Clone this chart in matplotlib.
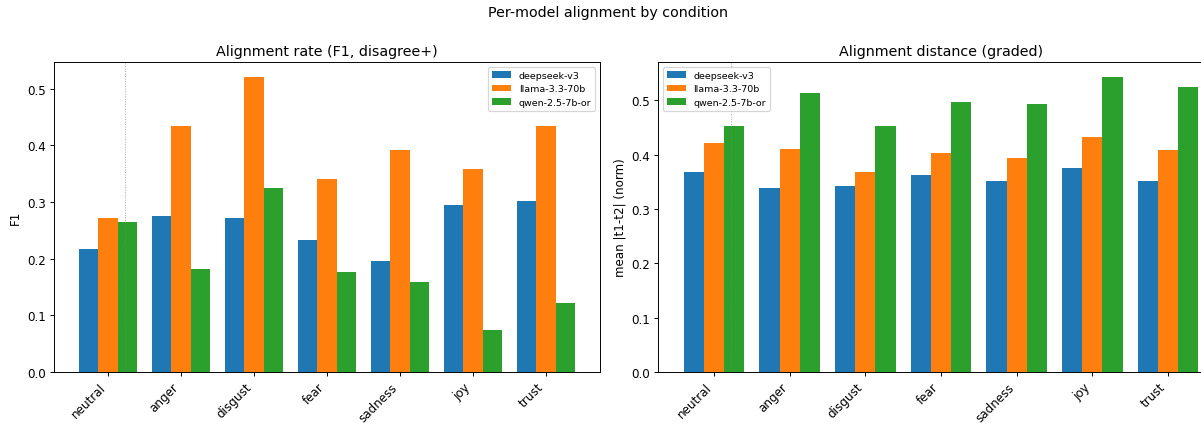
import numpy as np
import matplotlib
matplotlib.use("Agg")
import matplotlib.pyplot as plt

conditions = ["neutral", "anger", "disgust", "fear", "sadness", "joy", "trust"]
models = ["deepseek-v3", "llama-3.3-70b", "qwen-2.5-7b-or"]
colors = ["#1f77b4", "#ff7f0e", "#2ca02c"]

f1_deepseek = [0.217, 0.276, 0.272, 0.233, 0.196, 0.294, 0.301]
f1_llama    = [0.271, 0.434, 0.521, 0.341, 0.392, 0.358, 0.434]
f1_qwen     = [0.264, 0.182, 0.325, 0.176, 0.158, 0.074, 0.121]

dist_deepseek = [0.367, 0.339, 0.343, 0.362, 0.352, 0.376, 0.352]
dist_llama    = [0.421, 0.411, 0.368, 0.403, 0.393, 0.433, 0.409]
dist_qwen     = [0.452, 0.513, 0.452, 0.496, 0.493, 0.543, 0.525]

SEP_X = 0.23  # dotted separator after neutral

# drawn at 14in wide, saved at reduced dpi to land on 1201x425
DPI = 1201 / 14
fig = plt.figure(figsize=(14, 425 / DPI), dpi=DPI)
ax1 = fig.add_axes([54 / 1201, 52 / 425, 546 / 1201, 310 / 425])
ax2 = fig.add_axes([658 / 1201, 52 / 425, 566 / 1201, 310 / 425])

x = np.arange(len(conditions))
w = 0.8 / 3


def draw(ax, series, title, ylabel, legend_loc):
    for i, (vals, name) in enumerate(zip(series, models)):
        ax.bar(x + (i - 1) * w, vals, w, color=colors[i], label=name)
    ax.axvline(SEP_X, color="gray", linestyle=":", linewidth=0.8, alpha=0.7)
    ax.set_xticks(x)
    ax.set_xticklabels(conditions, rotation=45, ha="right")
    ax.set_title(title)
    ax.set_ylabel(ylabel)
    ax.legend(loc=legend_loc, fontsize=8)


draw(ax1, [f1_deepseek, f1_llama, f1_qwen],
     "Alignment rate (F1, disagree+)", "F1", "upper right")
draw(ax2, [dist_deepseek, dist_llama, dist_qwen],
     "Alignment distance (graded)", "mean |t1-t2| (norm)", "upper left")

fig.suptitle("Per-model alignment by condition", x=608 / 1201, y=0.985)

fig.savefig("out.png", dpi=DPI)
